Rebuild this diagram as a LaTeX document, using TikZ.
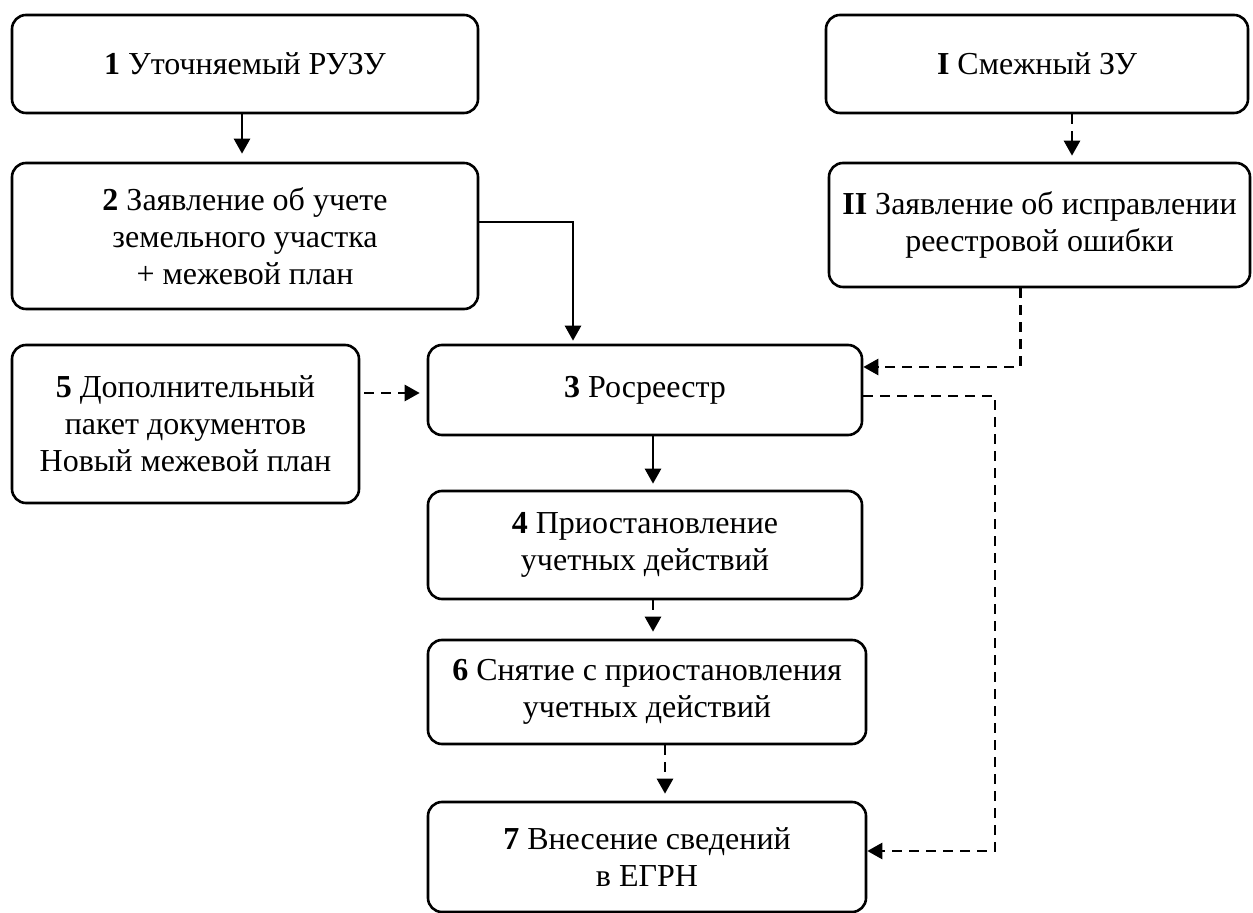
\documentclass[tikz,border=0pt]{standalone}
\usepackage{fontspec}
\setmainfont{Liberation Serif}
\usetikzlibrary{arrows.meta,calc}

\tikzset{
  blok/.style={draw,line width=1.3pt,rounded corners=7pt,align=center,inner sep=0pt,
    font=\fontsize{16}{18.5}\selectfont},
  arr/.style={-{Triangle[length=7.5pt,width=8pt]},line width=1.3pt},
  dsh/.style={arr,dash pattern=on 5pt off 3.5pt}
}

\begin{document}
\begin{tikzpicture}[x=0.5pt,y=-0.5pt]
\useasboundingbox (0,0) rectangle (1253,913);
% left column
\node[blok,minimum width=233pt,minimum height=49pt] (n1) at (245,64) {\textbf{1} Уточняемый РУЗУ};
\node[blok,minimum width=233pt,minimum height=73pt] (n2) at (245,236) {\textbf{2} Заявление об учете\\земельного участка\\+ межевой план};
\node[blok,minimum width=173.5pt,minimum height=79pt] (n5) at (185.5,424) {\textbf{5} Дополнительный\\пакет документов\\Новый межевой план};
% right column
\node[blok,minimum width=211pt,minimum height=49pt] (nI) at (1037,64) {\textbf{I} Смежный ЗУ};
\node[blok,minimum width=210.5pt,minimum height=62pt] (nII) at (1039.5,225) {\textbf{II} Заявление об исправлении\\реестровой ошибки};
% middle column
\node[blok,minimum width=217pt,minimum height=45pt] (n3) at (645,390) {\textbf{3} Росреестр};
\node[blok,minimum width=217pt,minimum height=54pt] (n4) at (645,545) {\textbf{4} Приостановление\\учетных действий};
\node[blok,minimum width=219pt,minimum height=52pt] (n6) at (647,692) {\textbf{6} Снятие с приостановления\\учетных действий};
\node[blok,minimum width=219pt,minimum height=55pt] (n7) at (647,857) {\textbf{7} Внесение сведений\\в ЕГРН};

\coordinate (k) at (995,851);
\draw[arr,shorten >=4pt] ($(n1.south)+(-3,0)$) -- ($(n2.north)+(-3,0)$);
\draw[dsh,shorten >=3pt] ($(nI.south)+(35,0)$) -- ($(nII.north)+(32.5,0)$);
\draw[arr,shorten >=1.5pt] ($(n2.east)+(0,-14)$) -| ($(n3.north)+(-72,0)$);
\draw[dsh] ($(nII.south)+(-19,0)$) |- ($(n3.east)+(0,-23)$);
\draw[dsh,shorten >=3.5pt] ($(n3.west -| n5.east)+(4,3)$) -- ($(n3.west)+(0,3)$);
\draw[arr,shorten >=3pt] ($(n3.south)+(8,0)$) -- ($(n4.north)+(8,0)$);
\draw[dsh,shorten >=3.5pt] ($(n4.south)+(8,0)$) -- ($(n6.north)+(6,0)$);
\draw[dsh,shorten >=3.5pt] ($(n6.south)+(18,0)$) -- ($(n7.north)+(18,0)$);
\draw[dsh] ($(n3.east)+(0,6)$) -| (k) -- (k -| n7.east);
\end{tikzpicture}
\end{document}
